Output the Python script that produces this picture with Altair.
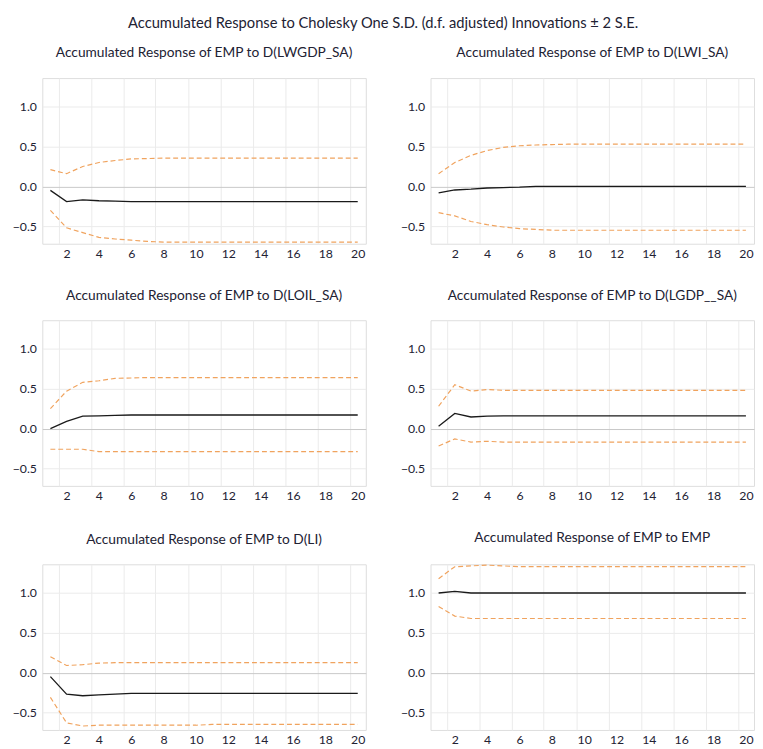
import altair as alt
import pandas as pd

steps = list(range(1, 21))

main_title = "Accumulated Response to Cholesky One S.D. (d.f. adjusted) Innovations \u00b1 2 S.E."
panel_titles = [
    "Accumulated Response of EMP to D(LWGDP_SA)",
    "Accumulated Response of EMP to D(LWI_SA)",
    "Accumulated Response of EMP to D(LOIL_SA)",
    "Accumulated Response of EMP to D(LGDP__SA)",
    "Accumulated Response of EMP to D(LI)",
    "Accumulated Response of EMP to EMP",
]

resp1 = [-0.05, -0.19, -0.17, -0.18, -0.185, -0.19, -0.19, -0.19, -0.19, -0.19,
         -0.19, -0.19, -0.19, -0.19, -0.19, -0.19, -0.19, -0.19, -0.19, -0.19]
up1 = [0.21, 0.16, 0.25, 0.30, 0.325, 0.345, 0.35, 0.355, 0.355, 0.355,
       0.355, 0.355, 0.355, 0.355, 0.355, 0.355, 0.355, 0.355, 0.355, 0.355]
lo1 = [-0.30, -0.52, -0.58, -0.64, -0.66, -0.675, -0.69, -0.70, -0.70, -0.70,
       -0.70, -0.70, -0.70, -0.70, -0.70, -0.70, -0.70, -0.70, -0.70, -0.70]

resp2 = [-0.08, -0.045, -0.035, -0.02, -0.015, -0.01, 0.0, 0.0, 0.0, 0.0,
         0.0, 0.0, 0.0, 0.0, 0.0, 0.0, 0.0, 0.0, 0.0, 0.0]
up2 = [0.16, 0.30, 0.39, 0.45, 0.49, 0.51, 0.52, 0.525, 0.53, 0.53,
       0.53, 0.53, 0.53, 0.53, 0.53, 0.53, 0.53, 0.53, 0.53, 0.53]
lo2 = [-0.33, -0.37, -0.44, -0.48, -0.51, -0.53, -0.54, -0.55, -0.55, -0.55,
       -0.55, -0.55, -0.55, -0.55, -0.55, -0.55, -0.55, -0.55, -0.55, -0.55]

resp3 = [0.0, 0.09, 0.155, 0.16, 0.165, 0.17, 0.17, 0.17, 0.17, 0.17,
         0.17, 0.17, 0.17, 0.17, 0.17, 0.17, 0.17, 0.17, 0.17, 0.17]
up3 = [0.25, 0.47, 0.58, 0.60, 0.63, 0.635, 0.64, 0.64, 0.64, 0.64,
       0.64, 0.64, 0.64, 0.64, 0.64, 0.64, 0.64, 0.64, 0.64, 0.64]
lo3 = [-0.26, -0.26, -0.26, -0.29, -0.29, -0.29, -0.29, -0.29, -0.29, -0.29,
       -0.29, -0.29, -0.29, -0.29, -0.29, -0.29, -0.29, -0.29, -0.29, -0.29]

resp4 = [0.03, 0.19, 0.145, 0.155, 0.16, 0.16, 0.16, 0.16, 0.16, 0.16,
         0.16, 0.16, 0.16, 0.16, 0.16, 0.16, 0.16, 0.16, 0.16, 0.16]
up4 = [0.28, 0.55, 0.47, 0.49, 0.48, 0.48, 0.48, 0.48, 0.48, 0.48,
       0.48, 0.48, 0.48, 0.48, 0.48, 0.48, 0.48, 0.48, 0.48, 0.48]
lo4 = [-0.22, -0.13, -0.17, -0.16, -0.17, -0.17, -0.17, -0.17, -0.17, -0.17,
       -0.17, -0.17, -0.17, -0.17, -0.17, -0.17, -0.17, -0.17, -0.17, -0.17]

resp5 = [-0.05, -0.27, -0.29, -0.28, -0.27, -0.26, -0.26, -0.26, -0.26, -0.26,
         -0.26, -0.26, -0.26, -0.26, -0.26, -0.26, -0.26, -0.26, -0.26, -0.26]
up5 = [0.20, 0.09, 0.10, 0.12, 0.125, 0.125, 0.125, 0.125, 0.125, 0.125,
       0.125, 0.125, 0.125, 0.125, 0.125, 0.125, 0.125, 0.125, 0.125, 0.125]
lo5 = [-0.31, -0.63, -0.67, -0.66, -0.66, -0.66, -0.66, -0.66, -0.66, -0.66,
       -0.65, -0.65, -0.65, -0.65, -0.65, -0.65, -0.65, -0.65, -0.65, -0.65]

resp6 = [1.0, 1.02, 1.0, 1.0, 1.0, 1.0, 1.0, 1.0, 1.0, 1.0,
         1.0, 1.0, 1.0, 1.0, 1.0, 1.0, 1.0, 1.0, 1.0, 1.0]
up6 = [1.18, 1.33, 1.34, 1.35, 1.34, 1.33, 1.33, 1.33, 1.33, 1.33,
       1.33, 1.33, 1.33, 1.33, 1.33, 1.33, 1.33, 1.33, 1.33, 1.33]
lo6 = [0.83, 0.71, 0.68, 0.68, 0.68, 0.68, 0.68, 0.68, 0.68, 0.68,
       0.68, 0.68, 0.68, 0.68, 0.68, 0.68, 0.68, 0.68, 0.68, 0.68]

series = [
    (resp1, up1, lo1), (resp2, up2, lo2), (resp3, up3, lo3),
    (resp4, up4, lo4), (resp5, up5, lo5), (resp6, up6, lo6),
]

FONT = "Lato"
TXT = "#222233"
W, H = 330, 169
grid_x = [1.5, 3.5, 5.5, 7.5, 9.5, 11.5, 13.5, 15.5, 17.5, 19.5]
y_ticks = [-0.5, 0.0, 0.5, 1.0]


def panel(title, resp, up, lo):
    rows = []
    for s, r, u, l in zip(steps, resp, up, lo):
        rows.append({"step": s, "series": "resp", "val": r})
        rows.append({"step": s, "series": "up", "val": u})
        rows.append({"step": s, "series": "lo", "val": l})
    df = pd.DataFrame(rows)
    x = alt.X("step:Q", scale=alt.Scale(domain=[0.5, 20.5], nice=False, zero=False),
              axis=alt.Axis(values=grid_x, labelExpr="datum.value + 0.5",
                            labelOffset=W / 40, title=None, ticks=False, domain=False,
                            grid=True, gridColor="#ebebeb", labelFont=FONT, labelFontSize=12.5,
                            labelColor=TXT, labelPadding=4))
    y = alt.Y("val:Q", scale=alt.Scale(domain=[-0.72, 1.36], nice=False, zero=False),
              axis=alt.Axis(values=y_ticks, format=".1f", title=None, ticks=False, domain=False,
                            grid=True,
                            gridColor=alt.condition("datum.value === 0", alt.value("#c8c8c8"), alt.value("#ebebeb")),
                            labelFont=FONT, labelFontSize=12.5, labelColor=TXT, labelPadding=6))
    band = alt.Chart(df).transform_filter("datum.series !== 'resp'").mark_line(
        color="#f0a35e", strokeWidth=1.2, strokeDash=[5, 3]
    ).encode(x=x, y=y, detail="series:N")
    line = alt.Chart(df).transform_filter("datum.series === 'resp'").mark_line(
        color="#1a1a1a", strokeWidth=1.3
    ).encode(x=x, y=y)
    return alt.layer(band, line).properties(
        width=W, height=H,
        title=alt.TitleParams(title, font=FONT, fontSize=14, fontWeight="normal",
                              color=TXT, offset=18, anchor="middle"),
    )


panels = [panel(t, *s) for t, s in zip(panel_titles, series)]
rows = [alt.hconcat(panels[i], panels[i + 1], spacing=33) for i in (0, 2, 4)]
chart = alt.vconcat(*rows, spacing=28).properties(
    title=alt.TitleParams(main_title, font=FONT, fontSize=15, fontWeight="normal",
                          color=TXT, anchor="middle", offset=16),
    padding={"left": 3, "top": 0, "right": 0, "bottom": 0},
).configure_view(stroke=None).configure(background="white")

chart.save("out.html", embed_options={"renderer": "svg", "actions": False})
